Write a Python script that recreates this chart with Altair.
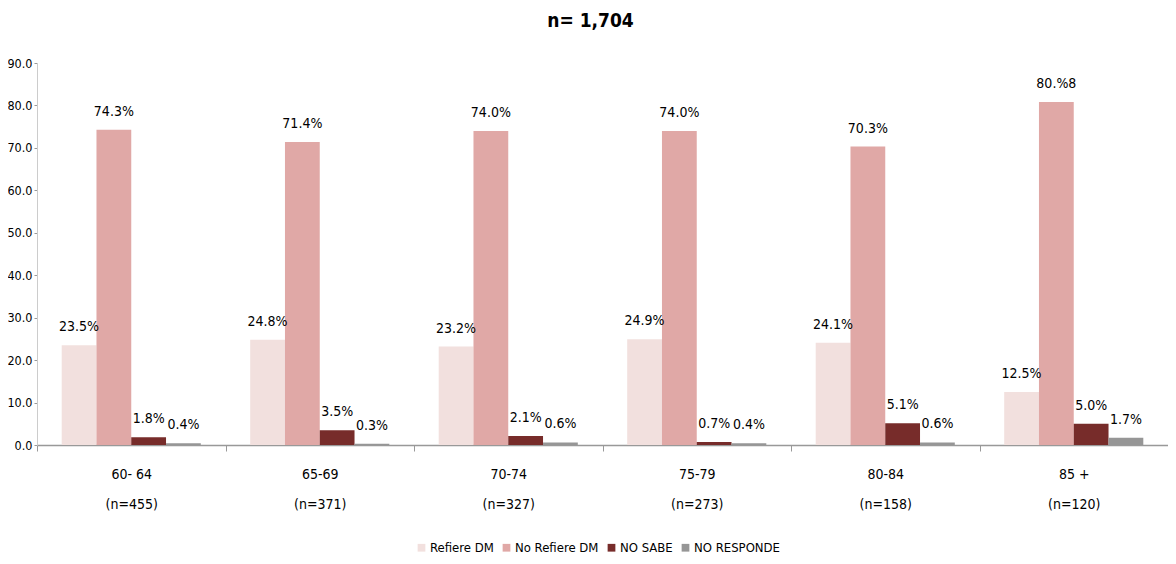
import altair as alt
import pandas as pd

groups = ["60- 64|(n=455)", "65-69|(n=371)", "70-74|(n=327)",
          "75-79|(n=273)", "80-84|(n=158)", "85 +|(n=120)"]
series = ["Refiere DM", "No Refiere DM", "NO SABE", "NO RESPONDE"]
colors = ["#F2E0DE", "#E0A8A6", "#772C2A", "#969696"]

refiere = [23.5, 24.8, 23.2, 24.9, 24.1, 12.5]
no_refiere = [74.3, 71.4, 74.0, 74.0, 70.3, 80.8]
no_sabe = [1.8, 3.5, 2.1, 0.7, 5.1, 5.0]
no_responde = [0.4, 0.3, 0.6, 0.4, 0.6, 1.7]

no_refiere_labels = ["74.3%", "71.4%", "74.0%", "74.0%", "70.3%", "80.%8"]

rows = []
for i, g in enumerate(groups):
    for s, vals in zip(series, [refiere, no_refiere, no_sabe, no_responde]):
        v = vals[i]
        lab = f"{v:.1f}%"
        if s == "No Refiere DM":
            lab = no_refiere_labels[i]
        rows.append({"grupo": g, "serie": s, "valor": v, "etiqueta": lab})
df = pd.DataFrame(rows)

FONT = "DejaVu Sans Condensed, Liberation Sans Narrow, Liberation Sans, sans-serif"

x = alt.X("grupo:N", sort=groups, title=None,
          scale=alt.Scale(paddingInner=0, paddingOuter=0),
          axis=alt.Axis(labelExpr="split(datum.label, '|')", labelAngle=0,
                        labelFont=FONT, labelFontSize=14, labelColor="#000",
                        labelPadding=16, labelLineHeight=30,
                        tickBand="extent", tickSize=6, tickColor="#999",
                        domainColor="#999", domainWidth=1.5))
xo = alt.XOffset("serie:N", sort=series,
                 scale=alt.Scale(paddingOuter=0.71, paddingInner=0))

base = alt.Chart(df)

bars = base.mark_bar().encode(
    x=x, xOffset=xo,
    y=alt.Y("valor:Q", title=None,
            scale=alt.Scale(domain=[0, 90], nice=False),
            axis=alt.Axis(values=list(range(0, 91, 10)), format=".1f",
                          labelFont=FONT, labelFontSize=12.5, labelColor="#000",
                          grid=False, tickSize=3, tickColor="#999",
                          domainColor="#ccc", labelPadding=2)),
    color=alt.Color("serie:N", sort=series,
                    scale=alt.Scale(domain=series, range=colors),
                    legend=alt.Legend(title=None, orient="none", direction="horizontal",
                                      legendX=378, legendY=478,
                                      symbolType="square", symbolSize=60,
                                      symbolStrokeWidth=0,
                                      labelFont=FONT, labelFontSize=13,
                                      labelColor="#000", columnPadding=6,
                                      labelOffset=2)),
)

labels = base.mark_text(font=FONT, fontSize=14, baseline="alphabetic",
                        dy=-14, color="#000").encode(
    x=alt.X("grupo:N", sort=groups), xOffset=xo,
    y=alt.Y("valor:Q"),
    text="etiqueta:N",
)

chart = alt.layer(bars, labels).properties(
    width=1131, height=382,
    autosize=alt.AutoSizeParams(type="none"),
    padding={"left": 29, "top": 55, "right": 0, "bottom": 110},
    title=alt.TitleParams("n= 1,704", font=FONT, fontSize=19, fontWeight="bold",
                          color="#000", anchor="middle", offset=26, dx=-12),
).configure_view(stroke=None)

chart.save("out.html", embed_options={"renderer": "svg", "actions": False})
